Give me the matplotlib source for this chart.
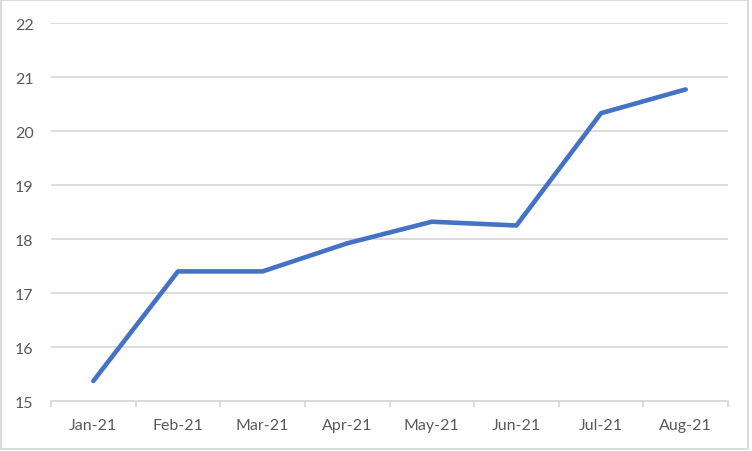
import matplotlib.pyplot as plt
from matplotlib.patches import Rectangle
import numpy as np

months = ['Jan-21', 'Feb-21', 'Mar-21', 'Apr-21', 'May-21', 'Jun-21', 'Jul-21', 'Aug-21']
values = [15.37, 17.40, 17.40, 17.92, 18.32, 18.25, 20.33, 20.77]
y_ticks = [15, 16, 17, 18, 19, 20, 21, 22]

plt.rcParams['font.family'] = ['Lato', 'DejaVu Sans']

W, H = 752, 452
fig = plt.figure(figsize=(W / 100, H / 100), dpi=100)
ax = fig.add_axes([51 / W, (H - 402) / H, (728 - 51) / W, (402 - 24) / H])

x = np.arange(len(months))
ax.plot(x, values, color='#4472C4', lw=3.3, solid_capstyle='round', solid_joinstyle='round', zorder=3)

ax.set_xlim(-0.5, len(months) - 0.5)
ax.set_ylim(15, 22)
ax.set_yticks(y_ticks)
ax.set_xticks(x)
ax.set_xticklabels(months)
ax.set_xticks(np.arange(-0.5, len(months)), minor=True)

ax.grid(axis='y', color='#d9d9d9', lw=1.3, zorder=0)
for s in ['top', 'right', 'left']:
    ax.spines[s].set_visible(False)
ax.spines['bottom'].set_color('#d9d9d9')
ax.spines['bottom'].set_linewidth(1.3)

ax.tick_params(axis='y', length=0, pad=12.5, labelsize=11.5, labelcolor='#595959')
ax.tick_params(axis='x', which='major', length=0, pad=12.5, labelsize=11.5, labelcolor='#595959')
ax.tick_params(axis='x', which='minor', length=4, width=1.3, color='#d9d9d9')

# outer chart border
fig.patches.append(Rectangle((1 / W, 2 / H), 747 / W, 449 / H, transform=fig.transFigure,
                             fill=False, edgecolor='#d9d9d9', lw=1.3))

fig.savefig('out.png', dpi=100)
